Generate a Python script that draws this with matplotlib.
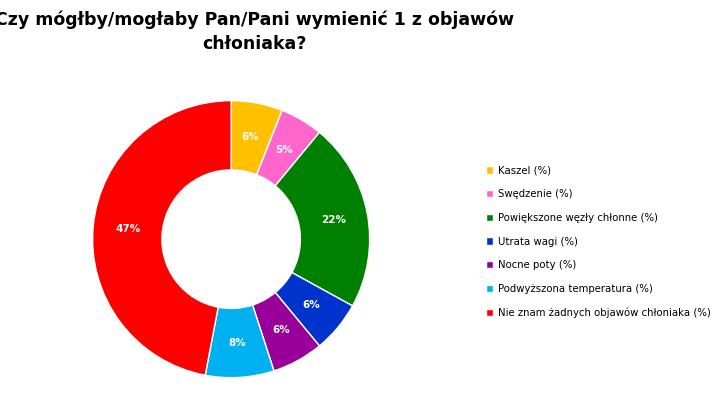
import matplotlib.pyplot as plt
import numpy as np

labels = ["Kaszel (%)", "Swędzenie (%)", "Powiększone węzły chłonne (%)", "Utrata wagi (%)",
          "Nocne poty (%)", "Podwyższona temperatura (%)", "Nie znam żadnych objawów chłoniaka (%)"]
values = [6, 5, 22, 6, 6, 8, 47]
colors = ["#FFC000", "#FF66CC", "#008000", "#0033CC", "#990099", "#00B0F0", "#FF0000"]

fig = plt.figure(figsize=(7.28, 4.17), dpi=100)
fig.patch.set_facecolor("white")
ax = fig.add_axes([0.125, 0.091, 0.385, 0.671])

wedges, texts = ax.pie(values, colors=colors, startangle=90, counterclock=False,
                       wedgeprops=dict(width=0.5, edgecolor="white", linewidth=1))
ax.set_xlim(-1.01, 1.01)
ax.set_ylim(-1.01, 1.01)
ax.set_aspect("equal")

ang = 90.0
for v in values:
    mid = np.deg2rad(ang - v * 3.6 / 2)
    ax.text(0.75 * np.cos(mid), 0.75 * np.sin(mid), f"{v}%", color="white",
            fontsize=7.5, fontweight="bold", ha="center", va="center")
    ang -= v * 3.6

fig.text(0.35, 0.975, "Czy mógłby/mogłaby Pan/Pani wymienić 1 z objawów\nchłoniaka?",
         ha="center", va="top", fontsize=12.5, fontweight="bold", linespacing=1.4)

fig.legend(wedges, labels, loc="upper left", bbox_to_anchor=(0.655, 0.625), frameon=False,
           fontsize=7.3, handlelength=0.7, handleheight=0.7, labelspacing=1.35, handletextpad=0.5)

fig.savefig("out.png", dpi=100)
